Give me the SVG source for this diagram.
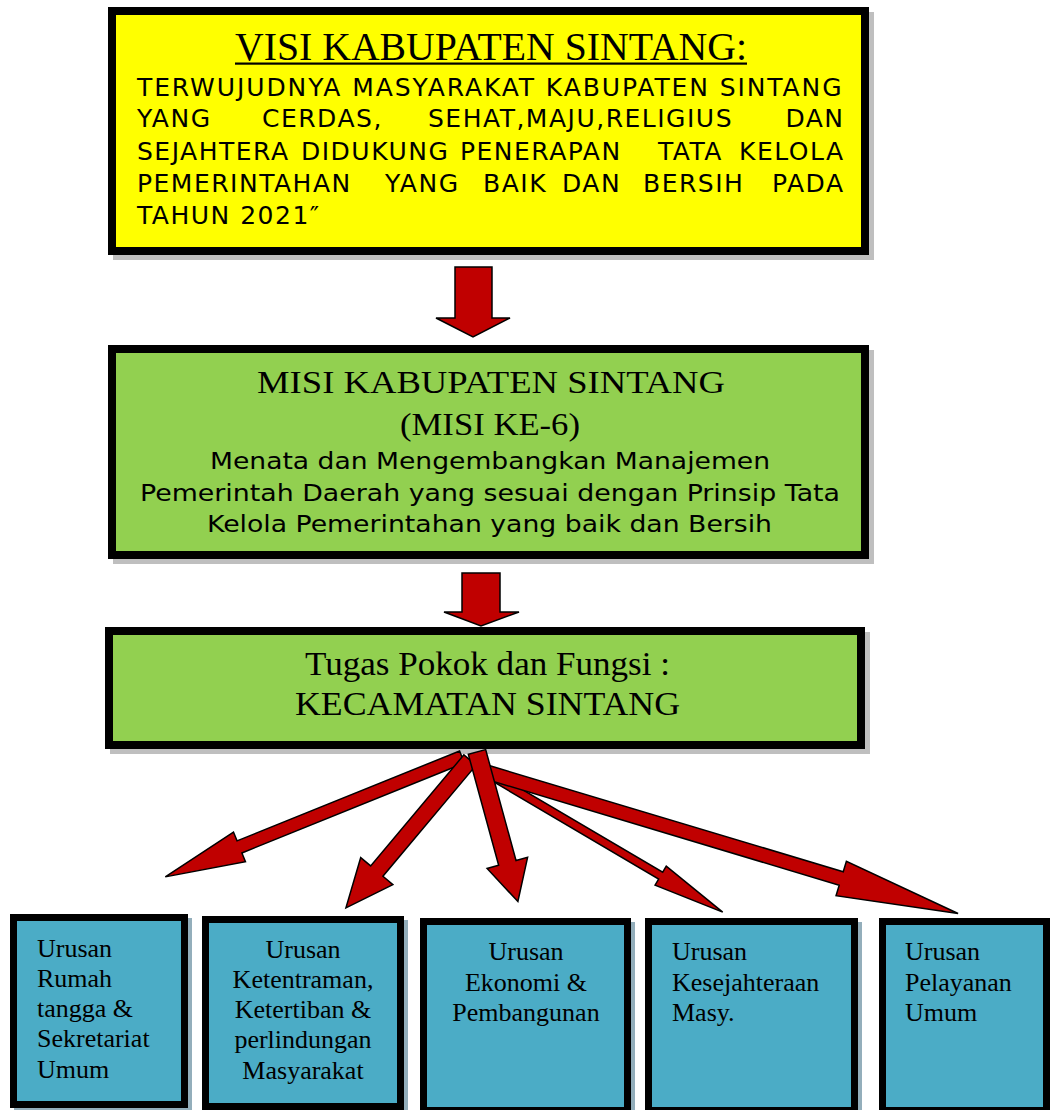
<svg xmlns="http://www.w3.org/2000/svg" width="1052" height="1110" viewBox="0 0 1052 1110">
<style>
.shadow{fill:#bfbfbf}
.bshadow{fill:#93aebb}
.box{stroke:#000;stroke-width:8}
.bbox{fill:#4bacc6;stroke:#000;stroke-width:7}
.serif{font-family:"Liberation Serif","Times New Roman",serif;fill:#000}
.sans{font-family:"DejaVu Sans","Liberation Sans",sans-serif;fill:#000}
.vis{font-size:25px;letter-spacing:1.5px}
.arrow{fill:#c00000;stroke:#000;stroke-width:1.5;stroke-linejoin:miter}
.small{font-size:26px}
</style>
<rect width="1052" height="1110" fill="#fff"/>

<g id="visi">
<rect class="shadow" x="113" y="12" width="761" height="248"/>
<rect class="box" x="112" y="11" width="753" height="240" fill="#ffff00"/>
<text class="serif" x="235" y="60" font-size="40" textLength="512" lengthAdjust="spacingAndGlyphs">VISI KABUPATEN SINTANG:</text>
<rect x="235" y="62.5" width="512" height="2.2" fill="#000"/>
<g class="sans vis">
<text x="137" y="96" textLength="706">TERWUJUDNYA MASYARAKAT KABUPATEN SINTANG</text>
<text x="137" y="127">YANG</text>
<text x="262" y="127">CERDAS,</text>
<text x="428" y="127">SEHAT,MAJU,RELIGIUS</text>
<text x="844.5" y="127" text-anchor="end">DAN</text>
<text x="137" y="160">SEJAHTERA</text>
<text x="301" y="160">DIDUKUNG</text>
<text x="460" y="160">PENERAPAN</text>
<text x="658" y="160">TATA</text>
<text x="844.5" y="160" text-anchor="end">KELOLA</text>
<text x="137" y="192">PEMERINTAHAN</text>
<text x="385" y="192">YANG</text>
<text x="483" y="192">BAIK</text>
<text x="562" y="192">DAN</text>
<text x="643" y="192">BERSIH</text>
<text x="844.5" y="192" text-anchor="end">PADA</text>
<text x="137" y="224">TAHUN 2021″</text>
</g>
</g>

<g id="misi">
<rect class="shadow" x="113" y="350" width="761" height="214"/>
<rect class="box" x="112" y="349" width="753" height="206" fill="#92d050"/>
<text class="serif" x="257" y="393" font-size="31" textLength="468" lengthAdjust="spacingAndGlyphs">MISI  KABUPATEN  SINTANG</text>
<text class="serif" x="400" y="435" font-size="31" textLength="180" lengthAdjust="spacingAndGlyphs">(MISI KE-6)</text>
<g class="sans" font-size="23.5">
<text x="210" y="469" textLength="560" lengthAdjust="spacingAndGlyphs">Menata dan Mengembangkan Manajemen</text>
<text x="140" y="501" textLength="700" lengthAdjust="spacingAndGlyphs">Pemerintah Daerah yang sesuai dengan Prinsip Tata</text>
<text x="207" y="532" textLength="565" lengthAdjust="spacingAndGlyphs">Kelola Pemerintahan yang baik dan Bersih</text>
</g>
</g>

<g id="tupoksi">
<rect class="shadow" x="110" y="632" width="760" height="122"/>
<rect class="box" x="109" y="631" width="752" height="114" fill="#92d050"/>
<text class="serif" x="305" y="675" font-size="33" textLength="365" lengthAdjust="spacingAndGlyphs">Tugas Pokok dan Fungsi :</text>
<text class="serif" x="295" y="715" font-size="33" textLength="385" lengthAdjust="spacingAndGlyphs">KECAMATAN SINTANG</text>
</g>

<g id="urusan1">
<rect class="bshadow" x="14" y="918" width="178" height="194"/>
<rect class="bbox" x="13.5" y="917.5" width="171" height="187"/>
<g class="serif small">
<text x="37" y="957">Urusan</text>
<text x="37" y="987">Rumah</text>
<text x="37" y="1017">tangga &amp;</text>
<text x="37" y="1047">Sekretariat</text>
<text x="37" y="1078">Umum</text>
</g>
</g>

<g id="urusan2">
<rect class="bshadow" x="206" y="920" width="202" height="194"/>
<rect class="bbox" x="205.5" y="919.5" width="195" height="187"/>
<g class="serif small" text-anchor="middle">
<text x="303" y="958">Urusan</text>
<text x="303" y="988">Ketentraman,</text>
<text x="303" y="1018">Ketertiban &amp;</text>
<text x="303" y="1048">perlindungan</text>
<text x="303" y="1079">Masyarakat</text>
</g>
</g>

<g id="urusan3">
<rect class="bshadow" x="424" y="922" width="211" height="196"/>
<rect class="bbox" x="423.5" y="921.5" width="204" height="189"/>
<g class="serif small" text-anchor="middle">
<text x="526" y="960">Urusan</text>
<text x="526" y="991">Ekonomi &amp;</text>
<text x="526" y="1021">Pembangunan</text>
</g>
</g>

<g id="urusan4">
<rect class="bshadow" x="649" y="922" width="213" height="196"/>
<rect class="bbox" x="648.5" y="921.5" width="206" height="189"/>
<g class="serif small">
<text x="672" y="960">Urusan</text>
<text x="672" y="991">Kesejahteraan</text>
<text x="672" y="1021">Masy.</text>
</g>
</g>

<g id="urusan5">
<rect class="bbox" x="882.5" y="921.5" width="164" height="189"/>
<g class="serif small">
<text x="905" y="960">Urusan</text>
<text x="905" y="991">Pelayanan</text>
<text x="905" y="1021">Umum</text>
</g>
</g>

<g id="connectors">
<polygon class="arrow" points="455,267 492,267 492,318 510,318 473,337 436,318 455,318"/>
<polygon class="arrow" points="462,573 500,573 500,612 519,612 481,626 444,612 462,612"/>
<g transform="translate(462,757) rotate(158)">
<polygon class="arrow" points="0,-6.5 240,-6.5 240,-16 320,0 240,16 240,6.5 0,6.5"/>
</g>
<g transform="translate(470,760) rotate(130)">
<polygon class="arrow" points="0,-8 145,-8 145,-21 193,0 145,21 145,8 0,8"/>
</g>
<g transform="translate(478,768) rotate(30.5)">
<polygon class="arrow" points="0,-4 212,-4 212,-11 284,0 212,11 212,4 0,4"/>
</g>
<g transform="translate(483,771) rotate(16.7)">
<polygon class="arrow" points="0,-7 374,-7 374,-18 496,0 374,18 374,7 0,7"/>
</g>
<g transform="translate(477,752) rotate(74.7)">
<polygon class="arrow" points="0,-9 115,-9 115,-21 155,0 115,21 115,9 0,9"/>
</g>
</g>
</svg>
